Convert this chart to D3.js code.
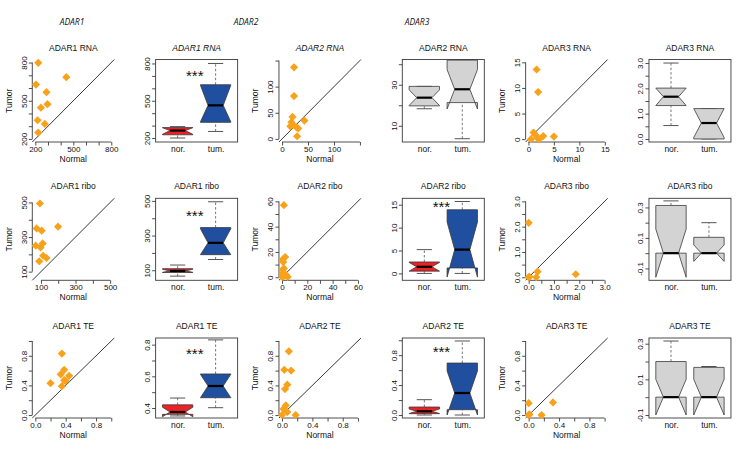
<!DOCTYPE html>
<html><head><meta charset="utf-8">
<script src="https://cdn.jsdelivr.net/npm/d3@7"></script>
<style>
body{margin:0;background:#fff}
svg{display:block}
text{font-family:"Liberation Sans",Arial,Helvetica,sans-serif;fill:#111}
</style>
</head><body>
<svg id="chart" width="740" height="450"></svg>
<script>
// ---------------- DATA ----------------
const headers = ["ADAR1", "ADAR2", "ADAR3"];
const boxGroups = ["nor.", "tum."];
const axisNames = {x: "Normal", y: "Tumor"};

// Scatter: ADAR1 RNA
const adar1RnaNormal = [223, 205, 445, 288, 296, 244, 218, 275, 223];
const adar1RnaTumor  = [798, 627, 685, 567, 473, 446, 347, 318, 250];
const adar1RnaLim = [176, 824];
const adar1RnaTicks = [200, 300, 400, 500, 600, 700, 800];
const adar1RnaTickLabels = ["200", "", "", "500", "", "", "800"];
// Box: ADAR1 RNA  [whiskerLow, Q1, median, Q3, whiskerHigh], notch [low, high]
const adar1RnaBoxNor = [200, 226, 260, 284, 292];
const adar1RnaBoxTum = [253, 326, 463, 629, 800];
const adar1RnaNotchNor = [230, 283];
const adar1RnaNotchTum = [330, 625];
const adar1RnaBoxLim = [168, 832];
const adar1RnaStar = 716;

// Scatter: ADAR2 RNA
const adar2RnaNormal = [23, 23, 20, 18, 16, 28, 31, 43, 29, 21];
const adar2RnaTumor  = [137, 82, 42, 32, 24, 22, 20, 35, 5, 27];
const adar2RnaLim = [-6, 152];
const adar2RnaTicks = [0, 50, 100, 150];
const adar2RnaTickLabels = ["0", "50", "100", ""];
// Box: ADAR2 RNA
const adar2RnaBoxNor = [18.3, 19.7, 23.7, 29.2, 29.2];
const adar2RnaBoxTum = [3.7, 21.3, 27.8, 42.0, 42.0];
const adar2RnaNotchNor = [19.9, 27.5];
const adar2RnaNotchTum = [18.2, 37.4];
const adar2RnaBoxLim = [2.1, 42.3];
const adar2RnaBoxTicks = [10, 20, 30, 40];
const adar2RnaBoxTickLabels = ["10", "", "30", ""];

// Scatter: ADAR3 RNA
const adar3RnaNormal = [1.6, 1.9, 1.0, 1.4, 1.9, 2.9, 5.0, 0.5, 2.1];
const adar3RnaTumor  = [13.6, 9.2, 1.3, 0.8, 0.1, 0.6, 0.5, 0.0, 0.0];
const adar3RnaLim = [-0.55, 15.55];
const adar3RnaTicks = [0, 5, 10, 15];
const adar3RnaTickLabels = ["0", "5", "10", "15"];
// Box: ADAR3 RNA
const adar3RnaBoxNor = [0.53, 1.32, 1.67, 2.01, 3.0];
const adar3RnaBoxTum = [0.0, 0.0, 0.63, 1.2, 1.2];
const adar3RnaNotchNor = [1.32, 2.01];
const adar3RnaNotchTum = [0.06, 1.2];
const adar3RnaBoxLim = [-0.12, 3.14];
const adar3RnaBoxTicks = [0, 0.5, 1, 1.5, 2, 2.5, 3];
const adar3RnaBoxTickLabels = ["0.0", "", "1.0", "", "2.0", "", "3.0"];

// Scatter: ADAR1 ribo
const adar1RiboNormal = [94, 75, 104, 199, 70, 98, 110, 113, 132, 90];
const adar1RiboTumor  = [494, 350, 337, 360, 250, 240, 263, 192, 179, 160];
const adar1RiboLim = [50, 524];
const adar1RiboTicks = [100, 200, 300, 400, 500];
const adar1RiboTickLabels = ["100", "", "300", "", "500"];
// Box: ADAR1 ribo
const adar1RiboBoxNor = [66, 87, 96, 109, 130];
const adar1RiboBoxTum = [162, 190, 258, 346, 495];
const adar1RiboNotchNor = [88, 106];
const adar1RiboNotchTum = [190, 340];
const adar1RiboBoxLim = [42, 515];
const adar1RiboStar = 425;

// Scatter: ADAR2 ribo
const adar2RiboNormal = [1.5, 0.5, 2.5, 1.0, 0.5, 1.5, 0.5, 1.5, 3.0, 4.5, 0.2];
const adar2RiboTumor  = [57, 14, 16, 12, 6, 7, 3, 1, 2, 0.3, 0.3];
const adar2RiboLim = [-2.4, 62.4];
const adar2RiboTicks = [0, 10, 20, 30, 40, 50, 60];
const adar2RiboTickLabels = ["0", "", "20", "", "40", "", "60"];
// Box: ADAR2 ribo
const adar2RiboBoxNor = [0, 0.5, 1.45, 2.5, 5.2];
const adar2RiboBoxTum = [0, 1.2, 5.2, 13.9, 15.7];
const adar2RiboNotchNor = [0.5, 2.4];
const adar2RiboNotchTum = [-0.8, 11.2];
const adar2RiboBoxLim = [-1.5, 16.4];
const adar2RiboBoxTicks = [0, 5, 10, 15];
const adar2RiboBoxTickLabels = ["0", "5", "10", "15"];
const adar2RiboStar = 15;

// Scatter: ADAR3 ribo
const adar3RiboNormal = [0.0, 0.0, 0.35, 0.3, 1.86, 0.03];
const adar3RiboTumor  = [2.15, 0.0, 0.22, 0.0, 0.12, 0.02];
const adar3RiboLim = [-0.12, 3.12];
const adar3RiboTicks = [0, 0.5, 1, 1.5, 2, 2.5, 3];
const adar3RiboTickLabels = ["0.0", "", "1.0", "", "2.0", "", "3.0"];
// Box: ADAR3 ribo
const adar3RiboBoxNor = [0, 0, 0, 0.313, 0.343];
const adar3RiboBoxTum = [0, 0, 0, 0.104, 0.2];
const adar3RiboNotchNor = [-0.158, 0.158];
const adar3RiboNotchTum = [-0.054, 0.054];
const adar3RiboBoxLim = [-0.178, 0.36];
const adar3RiboBoxTicks = [-0.1, 0, 0.1, 0.2, 0.3];
const adar3RiboBoxTickLabels = ["-0.1", "", "0.1", "", "0.3"];

// Scatter: ADAR1 TE
const adar1TeNormal = [0.35, 0.38, 0.335, 0.445, 0.38, 0.40, 0.20, 0.35];
const adar1TeTumor  = [0.83, 0.61, 0.55, 0.53, 0.47, 0.46, 0.43, 0.39];
// Box: ADAR1 TE
const adar1TeBoxNor = [0.35, 0.36, 0.375, 0.42, 0.463];
const adar1TeBoxTum = [0.402, 0.465, 0.539, 0.615, 0.83];
const adar1TeNotchNor = [0.345, 0.405];
const adar1TeNotchTum = [0.465, 0.613];
const adar1TeBoxLim = [0.337, 0.842];
const adar1TeBoxTicks = [0.4, 0.5, 0.6, 0.7, 0.8];
const adar1TeBoxTickLabels = ["0.4", "", "0.6", "", "0.8"];
const adar1TeStar = 0.758;

// Scatter: ADAR2 TE
const adar2TeNormal = [0.09, 0.03, 0.12, 0.07, 0.04, 0.05, 0.02, 0.07, 0.0, 0.18];
const adar2TeTumor  = [0.86, 0.61, 0.60, 0.41, 0.35, 0.13, 0.08, 0.04, 0.0, 0.0];
// Box: ADAR2 TE
const adar2TeBoxNor = [0, 0.018, 0.05, 0.107, 0.205];
const adar2TeBoxTum = [0, 0.071, 0.294, 0.695, 0.99];
const adar2TeNotchNor = [0.02, 0.08];
const adar2TeNotchTum = [0.0, 0.59];
const adar2TeBoxLim = [-0.04, 1.03];
const adar2TeBoxTicks = [0, 0.2, 0.4, 0.6, 0.8, 1.0];
const adar2TeBoxTickLabels = ["0.0", "", "0.4", "", "0.8", ""];
const adar2TeStar = 0.88;

// Scatter: ADAR3 TE
const adar3TeNormal = [0.0, 0.0, 0.17, 0.32, 0.01];
const adar3TeTumor  = [0.16, 0.0, 0.0, 0.17, 0.01];
// Box: ADAR3 TE
const adar3TeBoxNor = [0, 0, 0, 0.2, 0.315];
const adar3TeBoxTum = [0, 0, 0, 0.167, 0.172];
const adar3TeNotchNor = [-0.1, 0.1];
const adar3TeNotchTum = [-0.1, 0.1];
const adar3TeBoxLim = [-0.117, 0.332];
const adar3TeBoxTicks = [-0.1, 0, 0.1, 0.2, 0.3];
const adar3TeBoxTickLabels = ["-0.1", "", "0.1", "", "0.3"];

// shared TE scatter axis
const teLim = [-0.04, 1.04];
const teTicks = [0, 0.2, 0.4, 0.6, 0.8, 1.0];
const teTickLabels = ["0.0", "", "0.4", "", "0.8", ""];

// ---------------- PANEL TABLE ----------------
const panels = [
  {type: "scatter", row: 0, col: 0, title: "ADAR1 RNA", italic: false, nx: adar1RnaNormal, ty: adar1RnaTumor, lim: adar1RnaLim, ticks: adar1RnaTicks, labels: adar1RnaTickLabels},
  {type: "box", row: 0, col: 1, title: "ADAR1 RNA", italic: true, nor: adar1RnaBoxNor, tum: adar1RnaBoxTum, notchNor: adar1RnaNotchNor, notchTum: adar1RnaNotchTum, lim: adar1RnaBoxLim, ticks: adar1RnaTicks, labels: adar1RnaTickLabels, colors: ["red", "blue"], star: adar1RnaStar},
  {type: "scatter", row: 0, col: 2, title: "ADAR2 RNA", italic: true, nx: adar2RnaNormal, ty: adar2RnaTumor, lim: adar2RnaLim, ticks: adar2RnaTicks, labels: adar2RnaTickLabels},
  {type: "box", row: 0, col: 3, title: "ADAR2 RNA", italic: false, nor: adar2RnaBoxNor, tum: adar2RnaBoxTum, notchNor: adar2RnaNotchNor, notchTum: adar2RnaNotchTum, lim: adar2RnaBoxLim, ticks: adar2RnaBoxTicks, labels: adar2RnaBoxTickLabels, colors: ["gray", "gray"]},
  {type: "scatter", row: 0, col: 4, title: "ADAR3 RNA", italic: false, nx: adar3RnaNormal, ty: adar3RnaTumor, lim: adar3RnaLim, ticks: adar3RnaTicks, labels: adar3RnaTickLabels},
  {type: "box", row: 0, col: 5, title: "ADAR3 RNA", italic: false, nor: adar3RnaBoxNor, tum: adar3RnaBoxTum, notchNor: adar3RnaNotchNor, notchTum: adar3RnaNotchTum, lim: adar3RnaBoxLim, ticks: adar3RnaBoxTicks, labels: adar3RnaBoxTickLabels, colors: ["gray", "gray"]},

  {type: "scatter", row: 1, col: 0, title: "ADAR1 ribo", italic: false, nx: adar1RiboNormal, ty: adar1RiboTumor, lim: adar1RiboLim, ticks: adar1RiboTicks, labels: adar1RiboTickLabels},
  {type: "box", row: 1, col: 1, title: "ADAR1 ribo", italic: false, nor: adar1RiboBoxNor, tum: adar1RiboBoxTum, notchNor: adar1RiboNotchNor, notchTum: adar1RiboNotchTum, lim: adar1RiboBoxLim, ticks: adar1RiboTicks, labels: adar1RiboTickLabels, colors: ["red", "blue"], star: adar1RiboStar},
  {type: "scatter", row: 1, col: 2, title: "ADAR2 ribo", italic: false, nx: adar2RiboNormal, ty: adar2RiboTumor, lim: adar2RiboLim, ticks: adar2RiboTicks, labels: adar2RiboTickLabels},
  {type: "box", row: 1, col: 3, title: "ADAR2 ribo", italic: false, nor: adar2RiboBoxNor, tum: adar2RiboBoxTum, notchNor: adar2RiboNotchNor, notchTum: adar2RiboNotchTum, lim: adar2RiboBoxLim, ticks: adar2RiboBoxTicks, labels: adar2RiboBoxTickLabels, colors: ["red", "blue"], star: adar2RiboStar},
  {type: "scatter", row: 1, col: 4, title: "ADAR3 ribo", italic: false, nx: adar3RiboNormal, ty: adar3RiboTumor, lim: adar3RiboLim, ticks: adar3RiboTicks, labels: adar3RiboTickLabels},
  {type: "box", row: 1, col: 5, title: "ADAR3 ribo", italic: false, nor: adar3RiboBoxNor, tum: adar3RiboBoxTum, notchNor: adar3RiboNotchNor, notchTum: adar3RiboNotchTum, lim: adar3RiboBoxLim, ticks: adar3RiboBoxTicks, labels: adar3RiboBoxTickLabels, colors: ["gray", "gray"]},

  {type: "scatter", row: 2, col: 0, title: "ADAR1 TE", italic: false, nx: adar1TeNormal, ty: adar1TeTumor, lim: teLim, ticks: teTicks, labels: teTickLabels},
  {type: "box", row: 2, col: 1, title: "ADAR1 TE", italic: false, nor: adar1TeBoxNor, tum: adar1TeBoxTum, notchNor: adar1TeNotchNor, notchTum: adar1TeNotchTum, lim: adar1TeBoxLim, ticks: adar1TeBoxTicks, labels: adar1TeBoxTickLabels, colors: ["red", "blue"], star: adar1TeStar},
  {type: "scatter", row: 2, col: 2, title: "ADAR2 TE", italic: false, nx: adar2TeNormal, ty: adar2TeTumor, lim: teLim, ticks: teTicks, labels: teTickLabels},
  {type: "box", row: 2, col: 3, title: "ADAR2 TE", italic: false, nor: adar2TeBoxNor, tum: adar2TeBoxTum, notchNor: adar2TeNotchNor, notchTum: adar2TeNotchTum, lim: adar2TeBoxLim, ticks: adar2TeBoxTicks, labels: adar2TeBoxTickLabels, colors: ["red", "blue"], star: adar2TeStar},
  {type: "scatter", row: 2, col: 4, title: "ADAR3 TE", italic: false, nx: adar3TeNormal, ty: adar3TeTumor, lim: teLim, ticks: teTicks, labels: teTickLabels},
  {type: "box", row: 2, col: 5, title: "ADAR3 TE", italic: false, nor: adar3TeBoxNor, tum: adar3TeBoxTum, notchNor: adar3TeNotchNor, notchTum: adar3TeNotchTum, lim: adar3TeBoxLim, ticks: adar3TeBoxTicks, labels: adar3TeBoxTickLabels, colors: ["gray", "gray"]}
];

// ---------------- LAYOUT / STYLE ----------------
const W = 740, H = 450;
const colW = W / 6;
const plotOffX = 32.3, plotW = 82;
const rowTop = [59.5, 198.3, 338];
const rowH = [82.5, 82, 80];
const headerX = [72, 246, 417], headerY = 21;
const fill = {red: "#ec2227", blue: "#1f4f9e", gray: "#d3d3d3"};
const orange = "#f8a21c";
const axisCol = "#3a3a3a";

const svg = d3.select("#chart");

// headers
svg.selectAll("text.hdr").data(headers).join("text")
  .attr("class", "hdr")
  .attr("x", (d, i) => headerX[i]).attr("y", headerY)
  .attr("text-anchor", "middle").attr("dominant-baseline", "central")
  .style("font-family", "'Open Sans', 'Liberation Sans', sans-serif")
  .style("font-style", "italic").style("font-size", "8.5px")
  .text(d => d);

function styleAxis(g) {
  g.selectAll(".domain").remove();
  g.selectAll(".tick line").attr("stroke", axisCol).attr("stroke-width", 0.9);
  g.selectAll(".tick text").style("font-size", "8px").attr("fill", "#111");
}

function yAxis(g, scale, ticks, labels, x0) {
  const ax = d3.axisLeft(scale).tickValues(ticks).tickSize(3.5)
    .tickFormat((d, i) => labels[i]);
  const a = g.append("g").attr("transform", `translate(${x0},0)`).call(ax);
  styleAxis(a);
  a.selectAll(".tick text")
    .attr("transform", "rotate(-90)")
    .attr("x", 0).attr("y", -5.5).attr("dy", 0)
    .attr("text-anchor", "middle");
  return a;
}

function xAxis(g, scale, ticks, labels, y0) {
  const ax = d3.axisBottom(scale).tickValues(ticks).tickSize(3.5)
    .tickFormat((d, i) => labels[i]);
  const a = g.append("g").attr("transform", `translate(0,${y0})`).call(ax);
  styleAxis(a);
  a.selectAll(".tick text").attr("y", 4.5).attr("dy", "0.71em");
  return a;
}

const diamond = "M0,-4.1L4.1,0L0,4.1L-4.1,0Z";

panels.forEach(p => {
  const L = p.col * colW + plotOffX;
  const T = rowTop[p.row];
  const Hh = rowH[p.row];
  const g = svg.append("g");
  const cx = L + plotW / 2;

  // title
  g.append("text").attr("x", cx).attr("y", T - 12)
    .attr("text-anchor", "middle").attr("dominant-baseline", "central")
    .style("font-size", "8.5px").style("font-style", p.italic ? "italic" : "normal")
    .text(p.title);

  const y = d3.scaleLinear().domain(p.lim).range([T + Hh, T]);

  if (p.type === "scatter") {
    const x = d3.scaleLinear().domain(p.lim).range([L, L + plotW]);
    // axes (line spans first..last tick)
    yAxis(g, y, p.ticks, p.labels, L);
    g.append("line").attr("x1", L).attr("x2", L)
      .attr("y1", y(p.ticks[0])).attr("y2", y(p.ticks[p.ticks.length - 1]))
      .attr("stroke", axisCol).attr("stroke-width", 0.9);
    xAxis(g, x, p.ticks, p.labels, T + Hh);
    g.append("line").attr("y1", T + Hh).attr("y2", T + Hh)
      .attr("x1", x(p.ticks[0])).attr("x2", x(p.ticks[p.ticks.length - 1]))
      .attr("stroke", axisCol).attr("stroke-width", 0.9);
    // diagonal
    g.append("line")
      .attr("x1", x(p.lim[0])).attr("y1", y(p.lim[0]))
      .attr("x2", x(p.lim[1])).attr("y2", y(p.lim[1]))
      .attr("stroke", "#222").attr("stroke-width", 0.9);
    // points
    g.selectAll("path.pt").data(p.nx.map((v, i) => [v, p.ty[i]])).join("path")
      .attr("class", "pt").attr("d", diamond)
      .attr("transform", d => `translate(${x(d[0])},${y(d[1])})`)
      .attr("fill", orange);
    // axis titles
    g.append("text").attr("x", cx).attr("y", T + Hh + 17)
      .attr("text-anchor", "middle").attr("dominant-baseline", "central")
      .style("font-size", "8.5px").text(axisNames.x);
    g.append("text").attr("transform", `translate(${p.col * colW + 8.5},${T + Hh / 2}) rotate(-90)`)
      .attr("text-anchor", "middle").attr("dominant-baseline", "central")
      .style("font-size", "8.5px").text(axisNames.y);
  } else {
    const x = d3.scaleLinear().domain([0.42, 2.58]).range([L, L + plotW]);
    const half = x(0.4) - x(0);
    const groups = [
      {pos: 1, s: p.nor, c: p.notchNor, col: fill[p.colors[0]]},
      {pos: 2, s: p.tum, c: p.notchTum, col: fill[p.colors[1]]}
    ];
    groups.forEach(b => {
      const xc = x(b.pos);
      const s = b.s, c = b.c;
      // whiskers (dashed)
      g.append("line").attr("x1", xc).attr("x2", xc).attr("y1", y(s[0])).attr("y2", y(s[1]))
        .attr("stroke", "#555").attr("stroke-width", 0.8).attr("stroke-dasharray", "2.5,2");
      g.append("line").attr("x1", xc).attr("x2", xc).attr("y1", y(s[3])).attr("y2", y(s[4]))
        .attr("stroke", "#555").attr("stroke-width", 0.8).attr("stroke-dasharray", "2.5,2");
      // staples
      [s[0], s[4]].forEach(v => {
        g.append("line").attr("x1", xc - half / 2).attr("x2", xc + half / 2)
          .attr("y1", y(v)).attr("y2", y(v))
          .attr("stroke", "#555").attr("stroke-width", 1);
      });
      // notched box polygon (R bxp order)
      const nf = 0.5;
      const xx = [-1, 1, 1, nf, 1, 1, -1, -1, -nf, -1].map(k => xc + half * k);
      const yy = [s[1], s[1], c[0], s[2], c[1], s[3], s[3], c[1], s[2], c[0]].map(v => y(v));
      const pts = xx.map((v, i) => [v, yy[i]]);
      g.append("path").attr("d", d3.line()(pts) + "Z")
        .attr("fill", b.col).attr("stroke", "#3a3a3a").attr("stroke-width", 0.8)
        .attr("stroke-linejoin", "round");
      // median
      g.append("line").attr("x1", xc - half * nf).attr("x2", xc + half * nf)
        .attr("y1", y(s[2])).attr("y2", y(s[2]))
        .attr("stroke", "#000").attr("stroke-width", 2.2);
    });
    // frame
    g.append("rect").attr("x", L).attr("y", T).attr("width", plotW).attr("height", Hh)
      .attr("fill", "none").attr("stroke", axisCol).attr("stroke-width", 0.9);
    yAxis(g, y, p.ticks, p.labels, L);
    const ax = d3.axisBottom(x).tickValues([1, 2]).tickSize(0).tickFormat((d, i) => boxGroups[i]);
    const a = g.append("g").attr("transform", `translate(0,${T + Hh})`).call(ax);
    a.selectAll(".domain").remove();
    a.selectAll(".tick text").style("font-size", "8.5px").attr("y", 3.5).attr("dy", "0.71em");
    if (p.star !== undefined) {
      g.append("text").attr("x", x(1.45)).attr("y", y(p.star)).attr("dy", "0.5em")
        .attr("text-anchor", "middle").style("font-size", "15px").text("***");
    }
  }
});
</script>
</body></html>
